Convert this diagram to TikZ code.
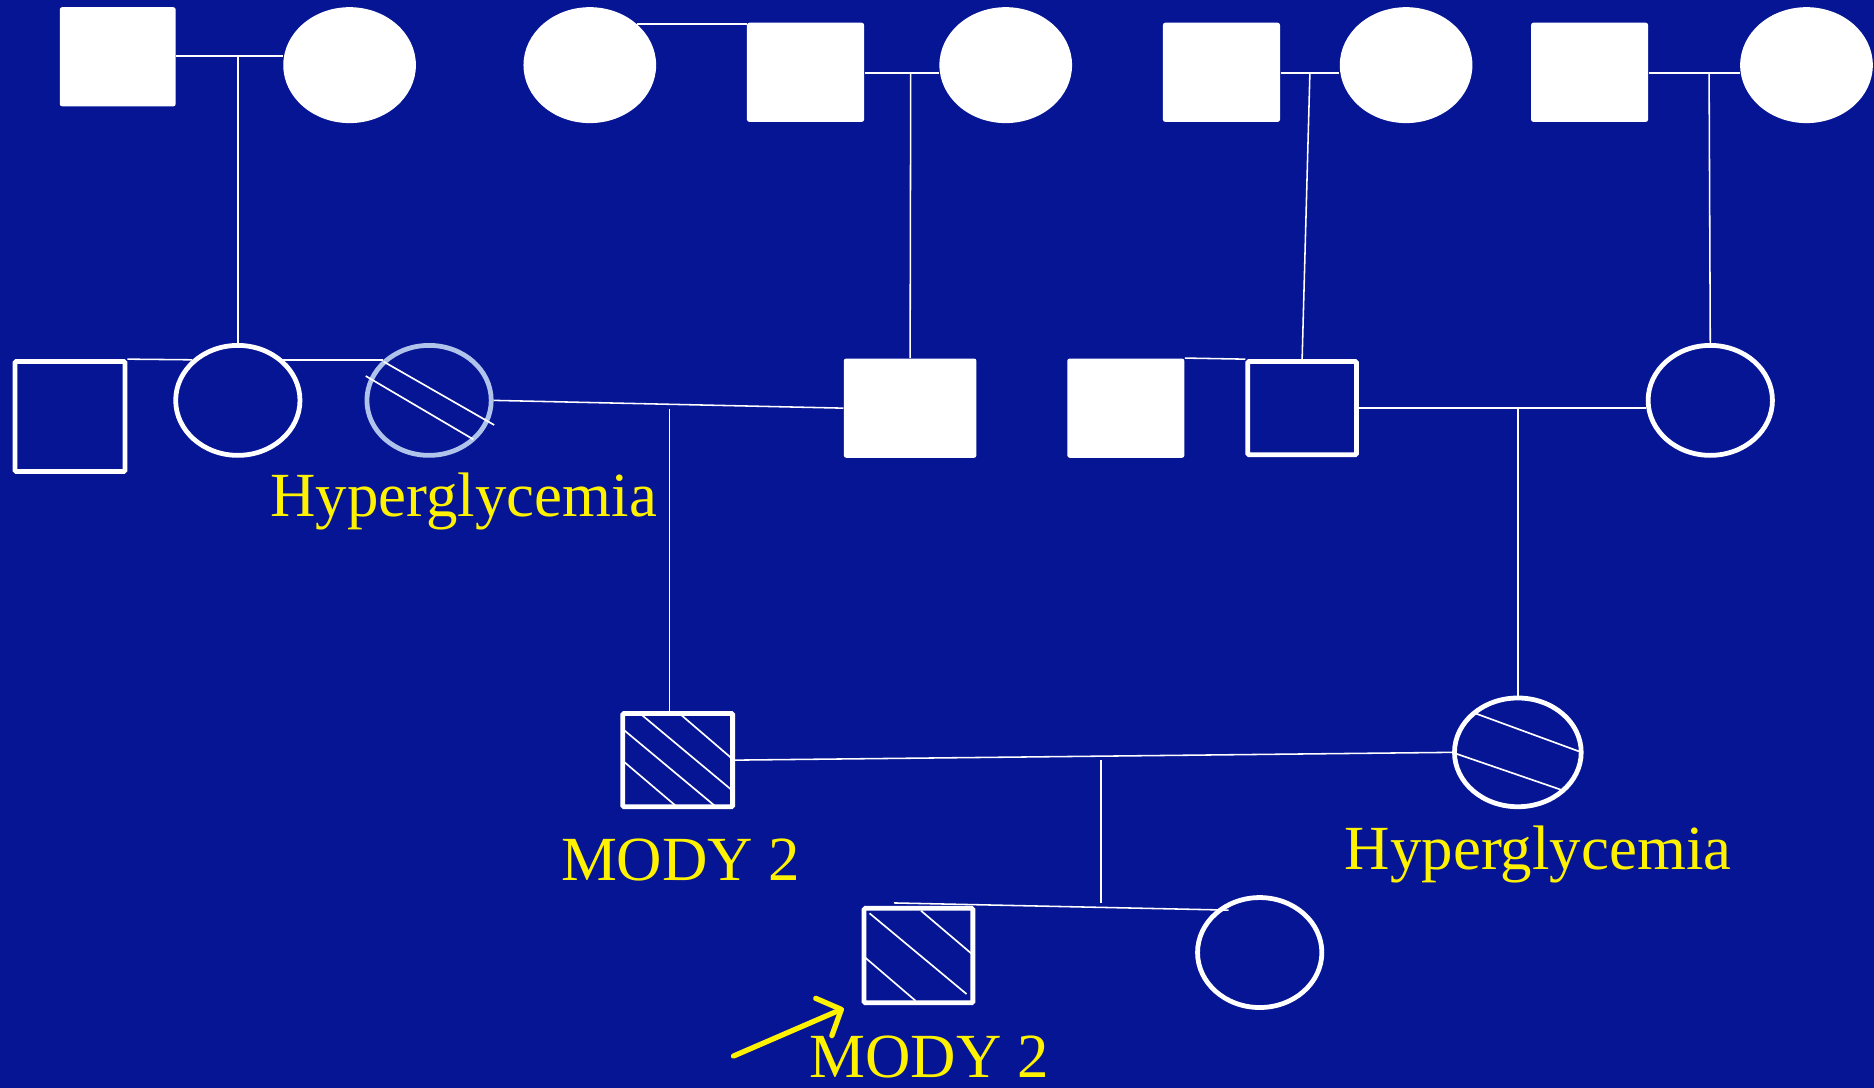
\documentclass[tikz,border=0pt]{standalone}
\usepackage{fontspec}
\setmainfont{Liberation Serif}
\usetikzlibrary{arrows.meta,shapes.geometric}
\definecolor{bg}{RGB}{6,21,148}
\definecolor{ringblue}{RGB}{175,195,235}
\begin{document}
\begin{tikzpicture}[x=0.5pt,y=-0.5pt,
  fsq/.style={rectangle, fill=white, draw=none, inner sep=0pt, rounded corners=1pt},
  fov/.style={ellipse, fill=white, draw=none, inner sep=0pt, minimum width=55.5pt, minimum height=48.5pt},
  osq/.style={rectangle, draw=white, line width=2pt, inner sep=0pt, rounded corners=0.5pt},
  oov/.style={ellipse, draw=white, line width=2pt, inner sep=0pt, minimum width=52pt, minimum height=46pt},
  link/.style={draw=white, line width=0.65pt},
  hatch/.style={draw=white, line width=0.7pt},
  lbl/.style={text=yellow, font=\fontsize{26.3}{30}\selectfont, inner sep=0pt, anchor=base},
  pointer/.style={draw=yellow, line width=2.2pt, line cap=round, -{Straight Barb[length=8pt,width=17pt,line width=2.2pt,round]}}
]
\useasboundingbox (0,0) rectangle (1568,910);
\fill[bg] (0,0) rectangle (1568,910);

% top row
\node[fsq, minimum width=48.5pt, minimum height=41.5pt] (s1) at (98.5,47.5) {};
\node[fov] (o1) at (292.5,54.5) {};
\node[fov] (o2) at (493.5,54.5) {};
\node[fsq, minimum width=49pt, minimum height=41.5pt] (s2) at (674,60.5) {};
\node[fov] (o3) at (841.5,54.5) {};
\node[fsq, minimum width=49pt, minimum height=41.5pt] (s3) at (1022,60.5) {};
\node[fov] (o4) at (1176.5,54.5) {};
\node[fsq, minimum width=49pt, minimum height=41.5pt] (s4) at (1330,60.5) {};
\node[fov] (o5) at (1511.5,54.5) {};

% second row
\node[osq, minimum width=46pt, minimum height=46pt] (s5) at (58.5,348.5) {};
\node[oov] (o6) at (199,335) {};
\node[oov, draw=ringblue] (o7) at (359,335) {};
\node[fsq, minimum width=55.5pt, minimum height=41.5pt] (s6) at (761.5,341.5) {};
\node[fsq, minimum width=49pt, minimum height=41.5pt] (s7) at (942,341.5) {};
\node[osq, minimum width=45.5pt, minimum height=39pt] (s8) at (1089.5,341.5) {};
\node[oov] (o8) at (1431,335) {};

% third row
\node[osq, minimum width=46pt, minimum height=39pt] (s9) at (567,636) {};
\node[oov, minimum width=53pt, minimum height=45.5pt] (o9) at (1270,629.5) {};

% fourth row
\node[osq, minimum width=45.5pt, minimum height=39.5pt] (s10) at (768.5,799.5) {};
\node[oov] (o10) at (1054,797) {};

% hatching
\draw[hatch] (321,302.6) -- (413.5,355.6);
\draw[hatch] (306,314.6) -- (396,367.6);
\draw[hatch] (536,597.4) -- (612.2,661);
\draw[hatch] (569,597.4) -- (612.2,634.5);
\draw[hatch] (522,610.8) -- (598.3,674.4);
\draw[hatch] (522,637.3) -- (565.6,674.4);
\draw[hatch] (1234.2,596.8) -- (1322,629);
\draw[hatch] (1217.4,630.3) -- (1306.7,661);
\draw[hatch] (727.6,764.2) -- (808.7,831.7);
\draw[hatch] (770.6,762) -- (812.5,797.6);
\draw[hatch] (724,801.3) -- (766,837.3);

% coordinates for line junctions
\coordinate (c1) at (199,47);
\coordinate (c2) at (762,61);
\coordinate (c3) at (1096,61);
\coordinate (c4) at (1430,61);
\coordinate (c5) at (560,342);
\coordinate (c6) at (1270,342);
\coordinate (c7) at (921,636);
\coordinate (c8) at (748,755.5);
\coordinate (c9) at (1028,761.5);
\coordinate (a0) at (613.7,883.6);
\coordinate (a1) at (706,843.7);

% connectors top row
\draw[link] (s1.east |- c1) -- (c1 -| o1.west);
\draw[link] (c1) -- (o6.north);
\draw[link] (o2.north east) -- (o2.north east -| s2.west);
\draw[link] (s2.east |- c2) -- (c2 -| o3.west);
\draw[link] (c2) -- (s6.north);
\draw[link] (s3.east |- c3) -- (c3 -| o4.west);
\draw[link] (c3) -- (s8.north);
\draw[link] (s4.east |- c4) -- (c4 -| o5.west);
\draw[link] (c4) -- (o8.north);

% connectors second row
\draw[link] (s5.north east) -- (o6.north west);
\draw[link] (o6.north east) -- (o7.north west);
\draw[link] (o7.east) -- (s6.west);
\draw[link] (c5) -- (c5 |- s9.north);
\draw[link] (s7.north east) -- (s8.north west);
\draw[link] (s8.east) -- (s8.east -| o8.west);
\draw[link] (c6) -- (o9.north);

% third row
\draw[link] (s9.east) -- (o9.west);
\draw[link] (c7) -- (c7 |- c8);
\draw[link] (c8) -- (c9);

% labels
\node[lbl] (l1) at (388,432.3) {Hyperglycemia};
\node[lbl] (l2) at (569.5,736.3) {MODY 2};
\node[lbl] (l3) at (1287,727.5) {Hyperglycemia};
\node[lbl] (l4) at (777.5,901.5) {MODY 2};

% arrow
\draw[pointer] (a0) -- (a1);
\end{tikzpicture}
\end{document}
